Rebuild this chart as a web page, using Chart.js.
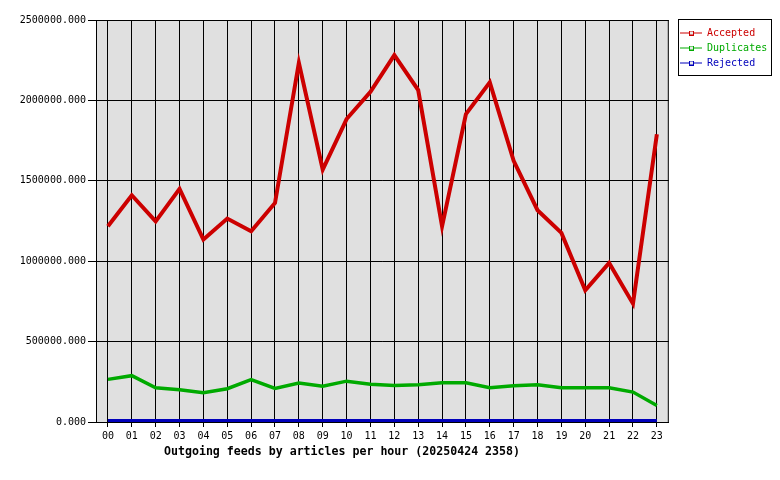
<!DOCTYPE html>
<html lang="en">
<head>
    <meta charset="UTF-8">
    <title>Outgoing feeds by articles per hour</title>
    <style>
        body {
            margin: 0;
            background: #ffffff;
        }
        #wrap {
            width: 780px;
            height: 480px;
        }
    </style>
</head>
<body>
    <div id="wrap"><canvas id="feedChart" width="780" height="480"></canvas></div>

    <script src="https://cdn.jsdelivr.net/npm/chart.js@4.4.3/dist/chart.umd.min.js"></script>
    <script>
        const hours = ['00', '01', '02', '03', '04', '05', '06', '07', '08', '09', '10', '11',
                       '12', '13', '14', '15', '16', '17', '18', '19', '20', '21', '22', '23'];

        const accepted = [1217000, 1410000, 1248000, 1450000, 1135000, 1265000, 1186000, 1362000,
                          2234000, 1570000, 1884000, 2054000, 2282000, 2064000, 1217000, 1915000,
                          2112000, 1624000, 1317000, 1176000, 819000, 989000, 736000, 1790000];

        const duplicates = [265000, 288000, 213000, 200000, 182000, 207000, 263000, 209000,
                            242000, 223000, 254000, 235000, 227000, 232000, 244000, 244000,
                            213000, 225000, 232000, 213000, 213000, 213000, 186000, 103000];

        const rejected = [0, 0, 0, 0, 0, 0, 0, 0, 0, 0, 0, 0,
                          0, 0, 0, 0, 0, 0, 0, 0, 0, 0, 0, 0];

        const yTicks = [0, 500000, 1000000, 1500000, 2000000, 2500000];
        const chartTitle = 'Outgoing feeds by articles per hour (20250424 2358)';

        const monoFont = '"DejaVu Sans Mono", "Liberation Mono", monospace';

        // little line-with-square sample used in the legend
        function legendMark(color) {
            const c = document.createElement('canvas');
            c.width = 22;
            c.height = 5;
            const ctx = c.getContext('2d');
            ctx.fillStyle = color;
            ctx.fillRect(0, 2, 22, 1);
            ctx.fillRect(9, 0, 5, 5);
            ctx.fillStyle = '#e8e8e8';
            ctx.fillRect(10, 1, 3, 3);
            return c;
        }

        const plotFrame = {
            id: 'plotFrame',
            afterLayout(chart) {
                // park the legend where the original one sits
                const lg = chart.legend;
                const w = lg.width, h = lg.height;
                lg.left = 675;
                lg.top = 23;
                lg.right = lg.left + w;
                lg.bottom = lg.top + h;
            },
            beforeDraw(chart) {
                const a = chart.chartArea;
                const ctx = chart.ctx;
                ctx.save();
                ctx.fillStyle = '#e0e0e0';
                ctx.fillRect(a.left, a.top, a.right - a.left, a.bottom - a.top);
                ctx.restore();
            },
            beforeDatasetsDraw(chart) {
                const a = chart.chartArea;
                const ctx = chart.ctx;
                ctx.save();
                ctx.strokeStyle = '#000000';
                ctx.lineWidth = 1;
                ctx.strokeRect(a.left + 0.5, a.top + 0.5, a.right - a.left - 1, a.bottom - a.top);
                ctx.restore();
            },
            afterDraw(chart) {
                const ctx = chart.ctx;
                ctx.save();
                ctx.strokeStyle = '#000000';
                ctx.lineWidth = 1;
                ctx.strokeRect(678.5, 19.5, 93, 56);
                ctx.fillStyle = '#000000';
                ctx.font = 'bold 11.6px ' + monoFont;
                ctx.textAlign = 'center';
                ctx.textBaseline = 'middle';
                ctx.fillText(chartTitle, 342, 452);
                ctx.restore();
            }
        };

        const yMax = yTicks[yTicks.length - 1];

        new Chart(document.getElementById('feedChart'), {
            type: 'line',
            data: {
                labels: hours,
                datasets: [
                    {
                        label: 'Accepted',
                        data: accepted,
                        borderColor: '#cc0000',
                        borderWidth: 4,
                        pointStyle: legendMark('#cc0000')
                    },
                    {
                        label: 'Duplicates',
                        data: duplicates,
                        borderColor: '#00aa00',
                        borderWidth: 3.5,
                        pointStyle: legendMark('#00aa00')
                    },
                    {
                        label: 'Rejected',
                        data: rejected,
                        borderColor: '#0000bb',
                        borderWidth: 6,
                        clip: 0,
                        pointStyle: legendMark('#0000bb')
                    }
                ]
            },
            options: {
                responsive: false,
                animation: false,
                devicePixelRatio: 1,
                layout: { padding: { top: 20, left: 0, right: 9, bottom: 0 } },
                elements: {
                    line: { tension: 0, fill: false, borderJoinStyle: 'miter' },
                    point: { radius: 0, hoverRadius: 0 }
                },
                plugins: {
                    title: { display: false },
                    tooltip: { enabled: false },
                    legend: {
                        position: 'right',
                        align: 'start',
                        labels: {
                            usePointStyle: true,
                            pointStyleWidth: 22,
                            padding: 5,
                            font: { family: monoFont, size: 10 },
                            generateLabels(chart) {
                                return chart.data.datasets.map((ds, i) => ({
                                    text: ds.label,
                                    fontColor: ds.borderColor,
                                    strokeStyle: ds.borderColor,
                                    fillStyle: ds.borderColor,
                                    pointStyle: ds.pointStyle,
                                    lineWidth: 0,
                                    hidden: false,
                                    datasetIndex: i
                                }));
                            }
                        }
                    }
                },
                scales: {
                    x: {
                        type: 'category',
                        offset: true,
                        grid: {
                            offset: false,
                            color: '#000000',
                            lineWidth: 1,
                            tickLength: 5,
                            tickColor: '#000000'
                        },
                        border: { display: true, color: '#000000' },
                        ticks: {
                            color: '#000000',
                            padding: 3,
                            maxRotation: 0,
                            autoSkip: false,
                            font: { family: monoFont, size: 10 }
                        },
                        afterFit(scale) { scale.height = 58; }
                    },
                    y: {
                        min: 0,
                        max: yMax,
                        afterBuildTicks(scale) {
                            scale.ticks = yTicks.map(v => ({ value: v }));
                        },
                        grid: {
                            color: '#000000',
                            lineWidth: 1,
                            tickLength: 8,
                            tickColor: '#000000'
                        },
                        border: { display: true, color: '#000000' },
                        ticks: {
                            color: '#000000',
                            padding: 2,
                            font: { family: monoFont, size: 10 },
                            callback: value => Number(value).toFixed(3)
                        },
                        afterFit(scale) { scale.width = 96; }
                    }
                }
            },
            plugins: [plotFrame]
        });
    </script>
</body>
</html>
